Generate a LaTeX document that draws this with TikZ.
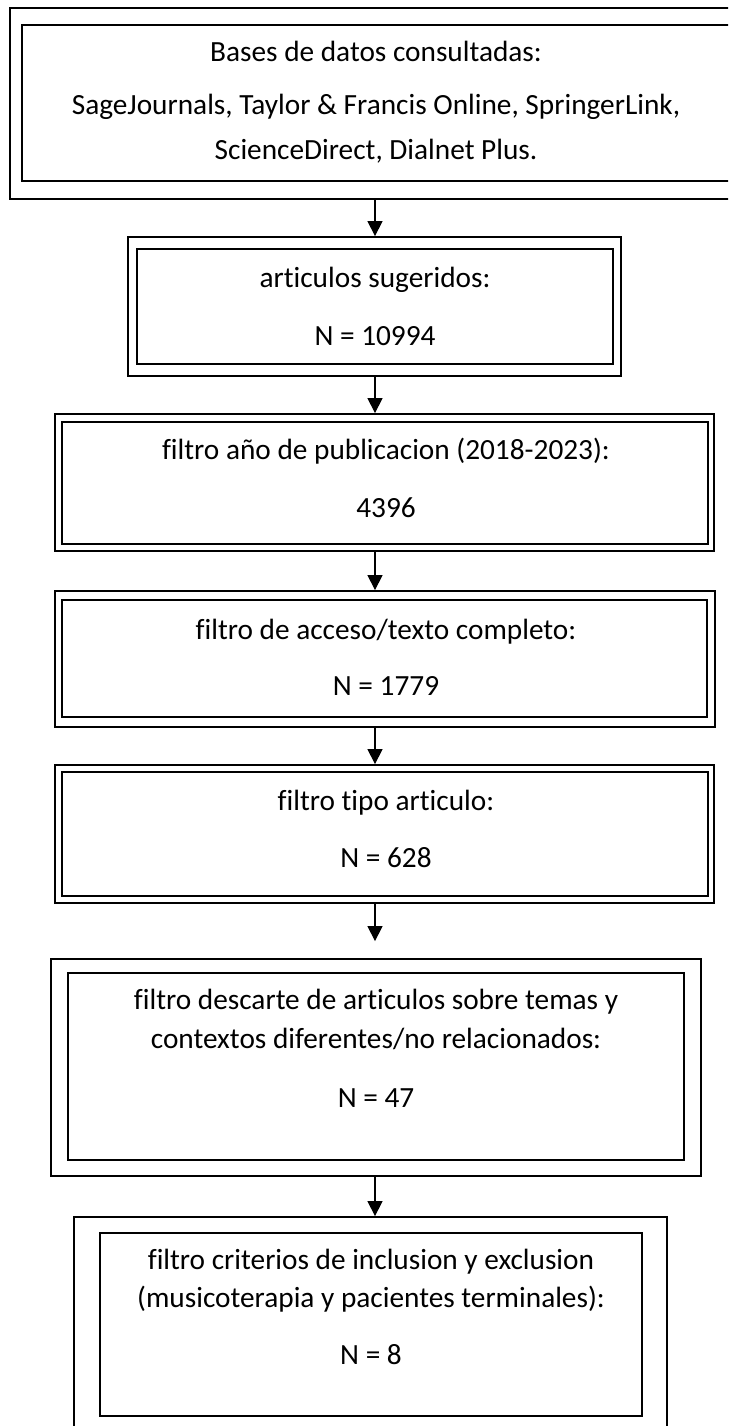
\documentclass[tikz,border=0pt]{standalone}
\usepackage{fontspec}
\setmainfont{Carlito}[Ligatures=NoCommon]
\usetikzlibrary{positioning}
\usetikzlibrary{arrows.meta}

\begin{document}
\begin{tikzpicture}[
            x=1pt, y=-1pt,
            outerbox/.style={rectangle, draw, line width=1.8pt, inner sep=0pt},
            innerbox/.style={rectangle, draw, line width=1.6pt, inner sep=0pt},
            lbl/.style={inner sep=0pt, text height=20pt, text depth=6pt, font=\fontsize{29.3}{36}\selectfont},
            arr/.style={-{Triangle[width=15pt,length=15pt]}, line width=1.2pt}
        ]
        \useasboundingbox (0,0) rectangle (728,1426);
        \clip (0,0) rectangle (728,1426);

        \coordinate (spine) at (375,0);

        % Databases
        \node[outerbox, minimum width=732pt, minimum height=191pt] (b1) at (376,103.5) {};
        \node[innerbox, minimum width=708pt, minimum height=156pt] (b1in) at (376,103) {};
        \node[lbl] (t1a) at (376,55) {Bases de datos consultadas:};
        \node[lbl] (t1b) at (376,108) {SageJournals, Taylor \& Francis Online, SpringerLink,};
        \node[lbl] (t1c) at (376,152) {ScienceDirect, Dialnet Plus.};

        % Suggested articles
        \node[outerbox, minimum width=493pt, minimum height=139pt] (b2) at (374.5,306.5) {};
        \node[innerbox, minimum width=476pt, minimum height=115pt] (b2in) at (375,306.5) {};
        \node[lbl] (t2a) at (375,280) {articulos sugeridos:};
        \node[lbl] (t2b) at (375,338) {N = 10994};

        % Year filter
        \node[outerbox, minimum width=659pt, minimum height=137pt] (b3) at (384.5,482.5) {};
        \node[innerbox, minimum width=646pt, minimum height=122pt] (b3in) at (385,483) {};
        \node[lbl] (t3a) at (386,452) {filtro año de publicacion (2018-2023):};
        \node[lbl] (t3b) at (386,510) {4396};

        % Access filter
        \node[outerbox, minimum width=660pt, minimum height=136pt] (b4) at (385,659) {};
        \node[innerbox, minimum width=645pt, minimum height=117pt] (b4in) at (384.5,658.5) {};
        \node[lbl] (t4a) at (386,632) {filtro de acceso/texto completo:};
        \node[lbl] (t4b) at (386,688) {N = 1779};

        % Type filter
        \node[outerbox, minimum width=659pt, minimum height=138pt] (b5) at (384.5,834) {};
        \node[innerbox, minimum width=646pt, minimum height=124pt] (b5in) at (385,834) {};
        \node[lbl] (t5a) at (386,803) {filtro tipo articulo:};
        \node[lbl] (t5b) at (386,860) {N = 628};

        % Topic filter
        \node[outerbox, minimum width=650pt, minimum height=217pt] (b6) at (376,1067.5) {};
        \node[innerbox, minimum width=616pt, minimum height=187pt] (b6in) at (376,1066.5) {};
        \node[lbl] (t6a) at (376,1002) {filtro descarte de articulos sobre temas y};
        \node[lbl] (t6b) at (376,1041) {contextos diferentes/no relacionados:};
        \node[lbl] (t6c) at (376,1100) {N = 47};

        % Inclusion / exclusion
        \node[outerbox, minimum width=593pt, minimum height=223pt] (b7) at (370.5,1328.5) {};
        \node[innerbox, minimum width=542pt, minimum height=183pt] (b7in) at (371,1324.5) {};
        \node[lbl] (t7a) at (371,1262) {filtro criterios de inclusion y exclusion};
        \node[lbl] (t7b) at (371,1300) {(musicoterapia y pacientes terminales):};
        \node[lbl] (t7c) at (371,1357) {N = 8};

        % Flow
        \draw[arr] (b1.south -| spine) -- (b2.north -| spine);
        \draw[arr] (b2.south -| spine) -- (b3.north -| spine);
        \draw[arr] (b3.south -| spine) -- (b4.north -| spine);
        \draw[arr] (b4.south -| spine) -- (b5.north -| spine);
        \draw[arr, shorten >=17pt] (b5.south -| spine) -- (b6.north -| spine);
        \draw[arr] (b6.south -| spine) -- (b7.north -| spine);

    \end{tikzpicture}
\end{document}
